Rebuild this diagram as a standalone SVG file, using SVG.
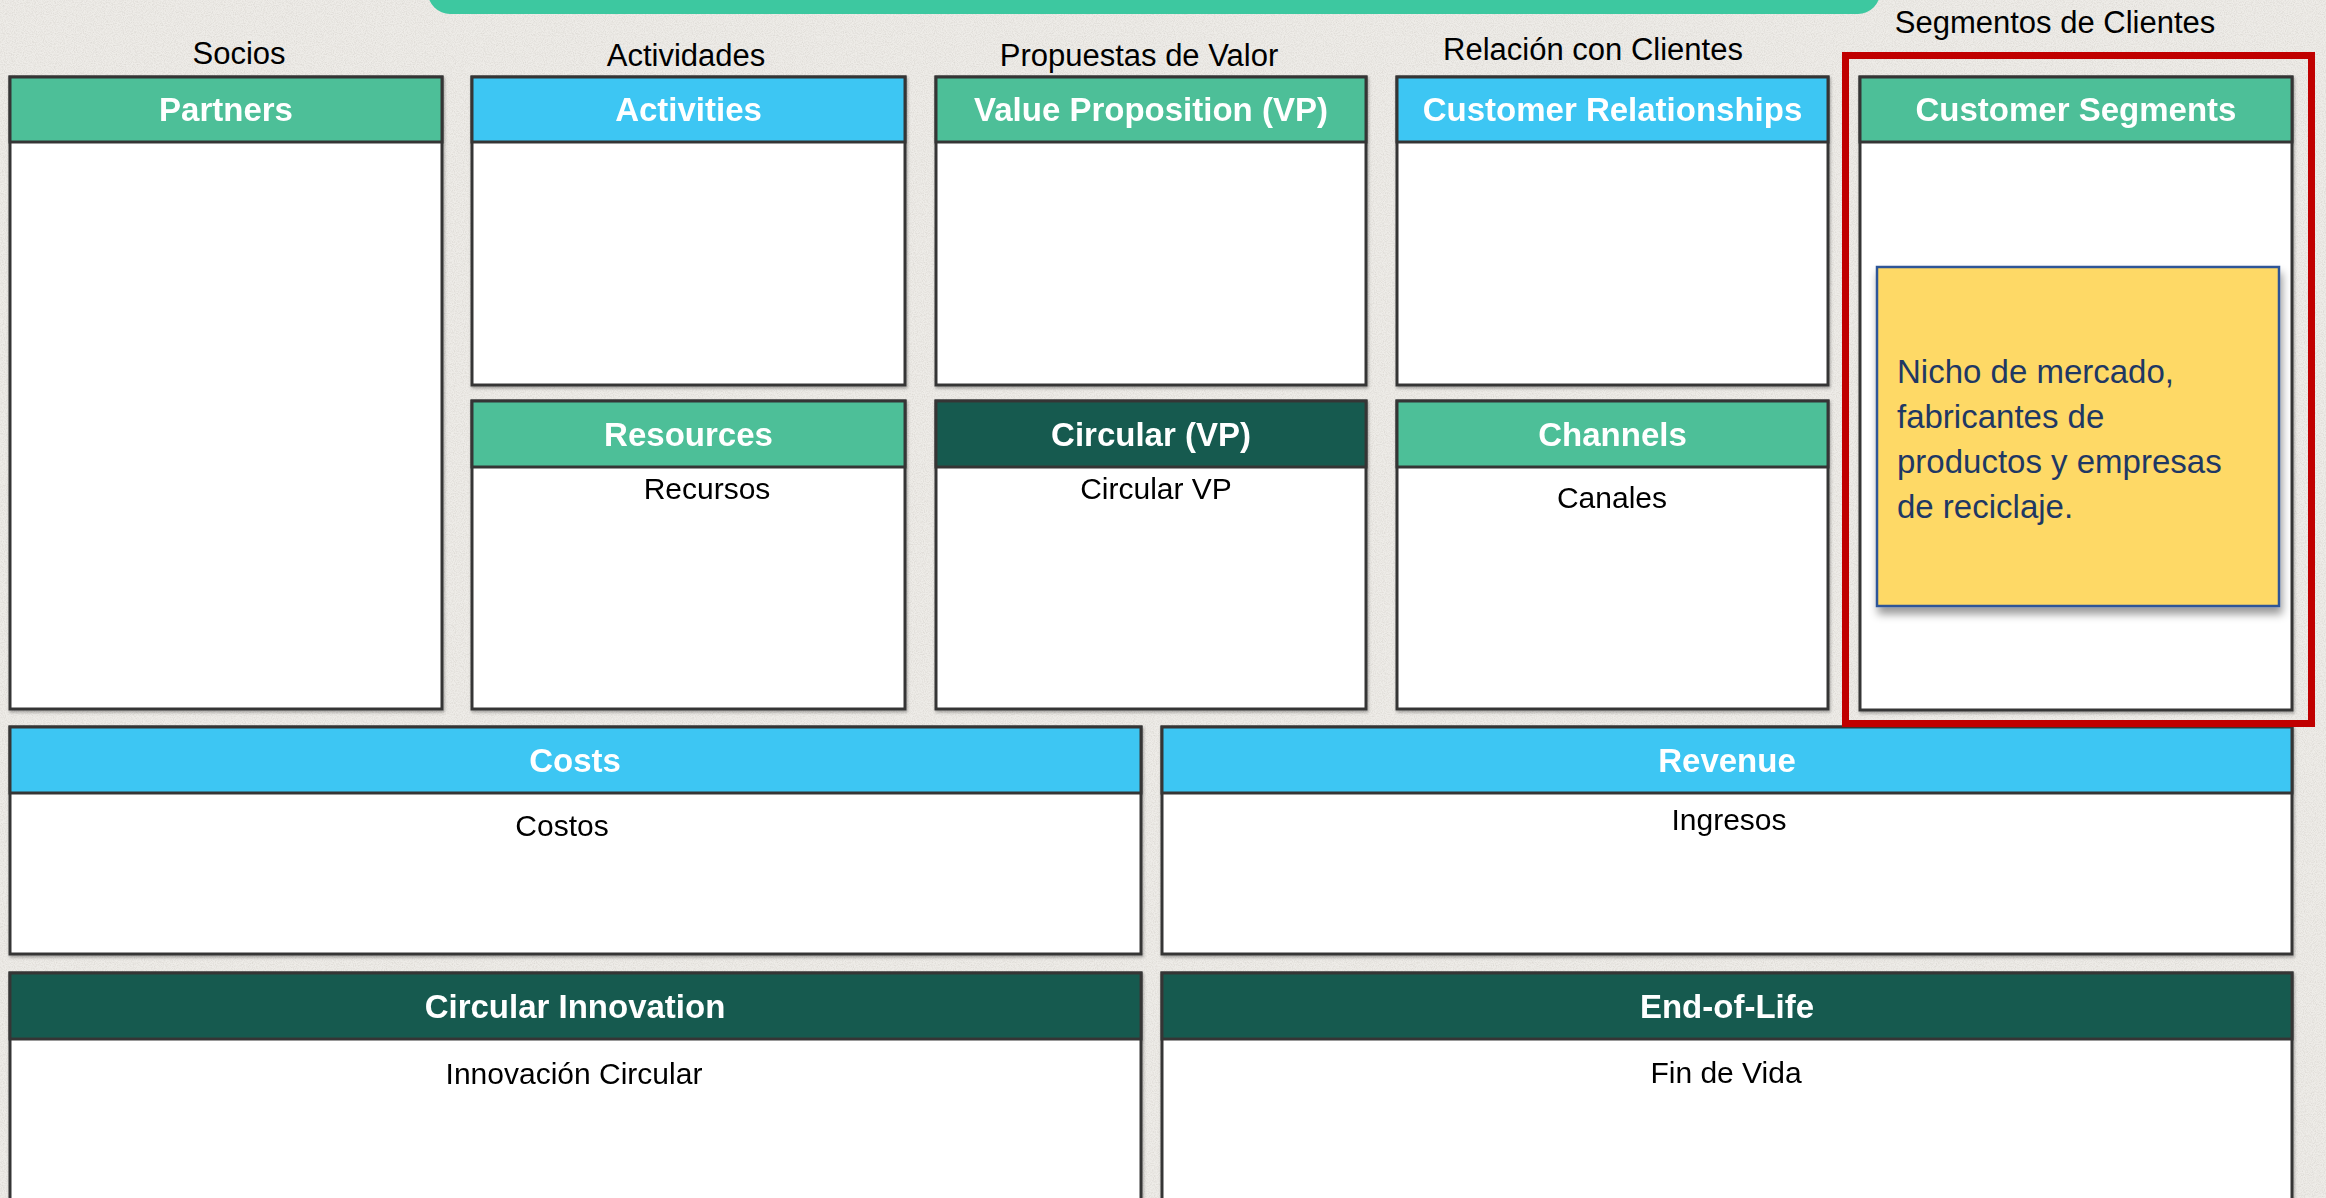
<svg xmlns="http://www.w3.org/2000/svg" width="2326" height="1198" viewBox="0 0 2326 1198">
  <defs>
    <filter id="paper" x="0" y="0" width="100%" height="100%">
      <feTurbulence type="fractalNoise" baseFrequency="0.9" numOctaves="2" seed="3" result="n"/>
      <feColorMatrix in="n" type="matrix" values="0 0 0 0 0.45  0 0 0 0 0.42  0 0 0 0 0.38  0 0 0 -1.6 1.0"/>
    </filter>
    <filter id="boxShadow" x="-5%" y="-5%" width="110%" height="110%">
      <feDropShadow dx="1" dy="2" stdDeviation="1.5" flood-color="#000" flood-opacity="0.3"/>
    </filter>
    <filter id="noteShadow" x="-10%" y="-10%" width="125%" height="130%">
      <feDropShadow dx="2" dy="7" stdDeviation="4" flood-color="#000" flood-opacity="0.4"/>
    </filter>
    <style>
      .body { fill: #ffffff; stroke: #363636; stroke-width: 3; }
      .hdr { stroke: #363636; stroke-width: 3; }
      .green { fill: #4DBF98; }
      .blue { fill: #3CC6F3; }
      .dark { fill: #145A50; }
      .htxt { font-family: "Liberation Sans", Arial, sans-serif; font-weight: bold; font-size: 33px; fill: #ffffff; text-anchor: middle; }
      .lbl { font-family: "Liberation Sans", Arial, sans-serif; font-size: 31px; fill: #000000; text-anchor: middle; }
      .sub { font-family: "Liberation Sans", Arial, sans-serif; font-size: 30px; fill: #000000; text-anchor: middle; }
      .note { font-family: "Liberation Sans", Arial, sans-serif; font-size: 33px; fill: #1F3864; }
    </style>
  </defs>

  <!-- background -->
  <rect x="0" y="0" width="2326" height="1198" fill="#EEECE8"/>
  <rect x="0" y="0" width="2326" height="1198" filter="url(#paper)" opacity="0.35"/>

  <!-- top banner -->
  <rect id="banner" x="428" y="-40" width="1452" height="54" rx="22" ry="22" fill="#3DC8A0"/>

  <!-- column labels -->
  <g id="labels">
    <text class="lbl" x="239" y="64">Socios</text>
    <text class="lbl" x="686" y="66">Actividades</text>
    <text class="lbl" x="1139" y="66">Propuestas de Valor</text>
    <text class="lbl" x="1593" y="60">Relación con Clientes</text>
    <text class="lbl" x="2055" y="33">Segmentos de Clientes</text>
  </g>

  <g id="partners" filter="url(#boxShadow)">
    <rect class="body" x="10" y="77" width="432" height="632"/>
    <rect class="hdr green" x="10" y="77" width="432" height="65"/>
    <text class="htxt" x="226" y="121">Partners</text>
  </g>

  <g id="activities" filter="url(#boxShadow)">
    <rect class="body" x="472" y="77" width="433" height="308"/>
    <rect class="hdr blue" x="472" y="77" width="433" height="65"/>
    <text class="htxt" x="688.5" y="121">Activities</text>
  </g>

  <g id="resources" filter="url(#boxShadow)">
    <rect class="body" x="472" y="401" width="433" height="308"/>
    <rect class="hdr green" x="472" y="401" width="433" height="66"/>
    <text class="htxt" x="688.5" y="446">Resources</text>
    <text class="sub" x="707" y="499">Recursos</text>
  </g>

  <g id="value-proposition" filter="url(#boxShadow)">
    <rect class="body" x="936" y="77" width="430" height="308"/>
    <rect class="hdr green" x="936" y="77" width="430" height="65"/>
    <text class="htxt" x="1151" y="121">Value Proposition (VP)</text>
  </g>

  <g id="circular-vp" filter="url(#boxShadow)">
    <rect class="body" x="936" y="401" width="430" height="308"/>
    <rect class="hdr dark" x="936" y="401" width="430" height="66"/>
    <text class="htxt" x="1151" y="446">Circular (VP)</text>
    <text class="sub" x="1156" y="499">Circular VP</text>
  </g>

  <g id="customer-relationships" filter="url(#boxShadow)">
    <rect class="body" x="1397" y="77" width="431" height="308"/>
    <rect class="hdr blue" x="1397" y="77" width="431" height="65"/>
    <text class="htxt" x="1612.5" y="121">Customer Relationships</text>
  </g>

  <g id="channels" filter="url(#boxShadow)">
    <rect class="body" x="1397" y="401" width="431" height="308"/>
    <rect class="hdr green" x="1397" y="401" width="431" height="66"/>
    <text class="htxt" x="1612.5" y="446">Channels</text>
    <text class="sub" x="1612" y="508">Canales</text>
  </g>

  <g id="customer-segments" filter="url(#boxShadow)">
    <rect class="body" x="1860" y="77" width="432" height="633"/>
    <rect class="hdr green" x="1860" y="77" width="432" height="65"/>
    <text class="htxt" x="2076" y="121">Customer Segments</text>
  </g>

  <g id="costs" filter="url(#boxShadow)">
    <rect class="body" x="10" y="727" width="1131" height="227"/>
    <rect class="hdr blue" x="10" y="727" width="1131" height="66"/>
    <text class="htxt" x="575" y="772">Costs</text>
    <text class="sub" x="562" y="836">Costos</text>
  </g>

  <g id="revenue" filter="url(#boxShadow)">
    <rect class="body" x="1162" y="727" width="1130" height="227"/>
    <rect class="hdr blue" x="1162" y="727" width="1130" height="66"/>
    <text class="htxt" x="1727" y="772">Revenue</text>
    <text class="sub" x="1729" y="830">Ingresos</text>
  </g>

  <g id="circular-innovation" filter="url(#boxShadow)">
    <rect class="body" x="10" y="973" width="1131" height="240"/>
    <rect class="hdr dark" x="10" y="973" width="1131" height="66"/>
    <text class="htxt" x="575" y="1018">Circular Innovation</text>
    <text class="sub" x="574" y="1084">Innovación Circular</text>
  </g>

  <g id="end-of-life" filter="url(#boxShadow)">
    <rect class="body" x="1162" y="973" width="1130" height="240"/>
    <rect class="hdr dark" x="1162" y="973" width="1130" height="66"/>
    <text class="htxt" x="1727" y="1018">End-of-Life</text>
    <text class="sub" x="1726" y="1083">Fin de Vida</text>
  </g>

  <!-- highlight -->
  <rect id="highlight" x="1845.5" y="55.5" width="466" height="668" fill="none" stroke="#C00000" stroke-width="7"/>

  <g id="sticky-note">
    <rect x="1877" y="267" width="402" height="339" fill="#FED966" stroke="#2F5597" stroke-width="2.5" filter="url(#noteShadow)"/>
    <text class="note" x="1897" y="383">Nicho de mercado,</text>
    <text class="note" x="1897" y="428">fabricantes de</text>
    <text class="note" x="1897" y="473">productos y empresas</text>
    <text class="note" x="1897" y="518">de reciclaje.</text>
  </g>

  <g id="connectors"></g>
</svg>
